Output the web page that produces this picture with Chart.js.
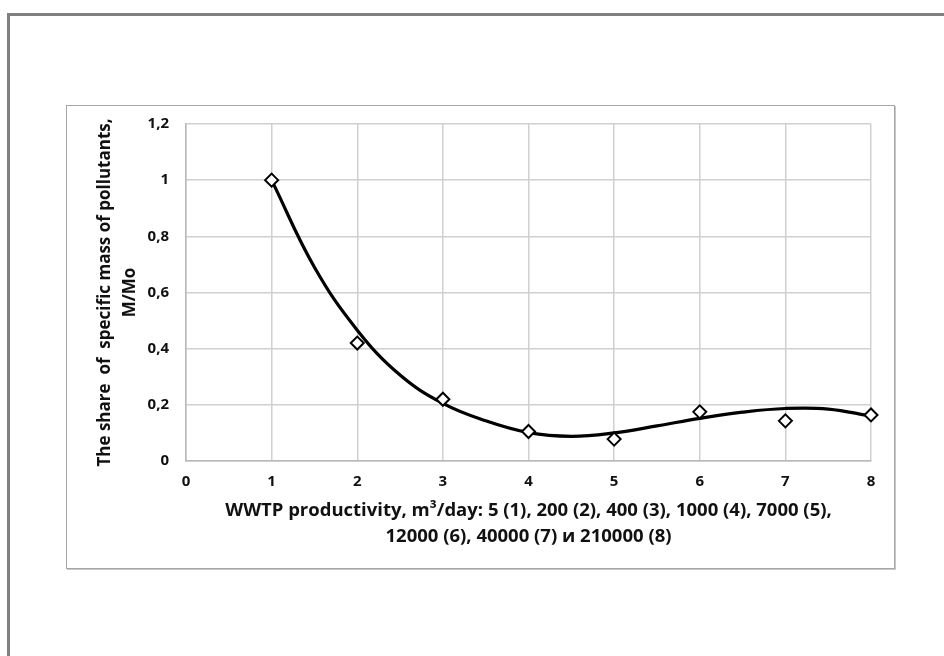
<!DOCTYPE html>
<html lang="en">
<head>
    <meta charset="UTF-8">
    <title>Specific mass of pollutants vs WWTP productivity</title>
    <script src="https://cdn.jsdelivr.net/npm/chart.js"></script>
    <style>
        html, body { margin: 0; padding: 0; background: #fff; overflow: hidden; }
        body { width: 944px; height: 656px; position: relative; }
        #frame {
            position: absolute; left: 7px; top: 13px; width: 1000px; height: 700px;
            border-left: 3px solid #808080; border-top: 3px solid #808080;
        }
        #box {
            position: absolute; left: 66px; top: 105px; width: 827px; height: 462px;
            border: 1px solid #a6a6a6; box-shadow: 1px 1px 0 #c8c8c8; background: #fff;
        }
        canvas { display: block; }
    </style>
</head>
<body>
    <div id="frame"></div>
    <div id="box"><canvas id="chart" width="827" height="462"></canvas></div>

    <script>
        // measured points (diamonds)
        const plantNo = [1, 2, 3, 4, 5, 6, 7, 8];
        const shareM = [1.0, 0.42, 0.22, 0.105, 0.078, 0.175, 0.143, 0.164];

        // trend line
        const trendX = [1, 1.5, 2, 2.5, 3, 3.5, 4, 4.5, 5, 5.5, 6, 6.5, 7, 7.5, 8];
        const trendY = [1.0, 0.69, 0.466, 0.306, 0.205, 0.143, 0.101, 0.088, 0.10, 0.125, 0.152, 0.174, 0.187, 0.185, 0.16];

        const xTitle = ["WWTP productivity, m\u00b3/day: 5 (1), 200 (2), 400 (3), 1000 (4), 7000 (5),",
                        "12000 (6), 40000 (7) и 210000 (8)"];
        const yTitle = ["The share  of  specific mass of pollutants,", "M/Mo"];

        const textColor = "#111";
        const gridColor = "#d0d0d0";
        const fontName = "'Open Sans', sans-serif";

        new Chart(document.getElementById("chart"), {
            type: "scatter",
            data: {
                datasets: [
                    {
                        data: trendX.map((x, i) => ({ x: x, y: trendY[i] })),
                        showLine: true,
                        borderColor: "#000",
                        borderWidth: 3.2,
                        pointRadius: 0,
                        tension: 0.4,
                        clip: 3,
                        order: 2
                    },
                    {
                        data: plantNo.map((x, i) => ({ x: x, y: shareM[i] })),
                        pointStyle: "rectRot",
                        pointRadius: 6.5,
                        pointBorderWidth: 2,
                        pointBorderColor: "#000",
                        pointBackgroundColor: "#fff",
                        clip: false,
                        order: 1
                    }
                ]
            },
            options: {
                responsive: false,
                animation: false,
                layout: { padding: { left: 0, right: 23, top: 18, bottom: 0 } },
                plugins: { legend: { display: false }, tooltip: { enabled: false } },
                scales: {
                    x: {
                        type: "linear", min: 0, max: 8,
                        afterFit: s => { s.height = 107; },
                        grid: { color: gridColor, lineWidth: 1.5, drawTicks: false },
                        border: { color: "#b8b8b8", width: 1.5 },
                        ticks: { stepSize: 1, padding: 12, color: textColor,
                                 font: { family: fontName, size: 15, weight: "bold" } },
                        title: { display: true, text: xTitle, color: textColor,
                                 padding: { top: 0, bottom: 18 },
                                 font: { family: fontName, size: 18.5, weight: "bold", lineHeight: 1.43 } }
                    },
                    y: {
                        type: "linear", min: 0, max: 1.2,
                        // keep the tick padding from pushing the plot top down
                        afterFit: s => { s.width = 119; s.paddingTop = 0; },
                        grid: { color: gridColor, lineWidth: 1.5, drawTicks: false },
                        border: { color: "#b8b8b8", width: 1.5 },
                        ticks: { stepSize: 0.2, padding: 17, color: textColor,
                                 font: { family: fontName, size: 15, weight: "bold" },
                                 callback: v => String(Math.round(v * 10) / 10).replace(".", ",") },
                        title: { display: true, text: yTitle, color: textColor,
                                 padding: { top: 25, bottom: 0 },
                                 font: { family: fontName, size: 17, weight: "bold", lineHeight: 1.5 } }
                    }
                }
            }
        });
    </script>
</body>
</html>
